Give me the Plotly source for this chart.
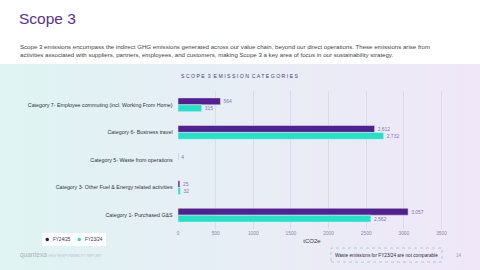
import plotly.graph_objects as go

categories = [
    "Category 7- Employee commuting (incl. Working From Home)",
    "Category 6- Business travel",
    "Category 5- Waste from operations",
    "Category 3- Other Fuel & Energy related activities",
    "Category 1- Purchased G&S",
]
fy2425 = [564, 2612, 4, 25, 3057]
fy2324 = [315, 2732, None, 32, 2562]
x_ticks = [0, 500, 1000, 1500, 2000, 2500, 3000, 3500]
series_names = ["FY24/25", "FY23/24"]

PURPLE = "#52208f"
TEAL = "#25e2c6"

W, H = 480, 270
L, R, T, B = 178, 34, 91, 41


def fmt(v):
    return "" if v is None else f"{v:,}"


def px_x(x):
    return (x - L) / (W - L - R)


def px_y(y):
    return (H - B - y) / (H - T - B)


fig = go.Figure()
for name, vals, col in [(series_names[0], fy2425, PURPLE), (series_names[1], fy2324, TEAL)]:
    fig.add_trace(go.Bar(
        y=categories, x=vals, orientation="h", name=name,
        marker=dict(color=col), text=[fmt(v) for v in vals],
        textposition="outside", textfont=dict(size=5, color="#8577ad"),
        cliponaxis=False, showlegend=False))

shapes = []
# gradient background band
n = 60
c0 = (223, 244, 243)
c1 = (240, 231, 248)
for i in range(n):
    t = i / (n - 1)
    c = tuple(int(round(c0[k] + (c1[k] - c0[k]) * t)) for k in range(3))
    shapes.append(dict(type="rect", xref="paper", yref="paper",
                       x0=px_x(i * W / n), x1=px_x((i + 1.05) * W / n),
                       y0=px_y(H), y1=px_y(64),
                       fillcolor=f"rgb{c}", line=dict(width=0), layer="below"))
# note box
shapes.append(dict(type="rect", xref="paper", yref="paper",
                   x0=px_x(331), x1=px_x(442), y0=px_y(262), y1=px_y(248),
                   line=dict(color="#8fc9c4", width=0.8, dash="dot"),
                   fillcolor="rgba(255,255,255,0)"))
# legend box
shapes.append(dict(type="rect", xref="paper", yref="paper",
                   x0=px_x(42), x1=px_x(106), y0=px_y(246), y1=px_y(233),
                   line=dict(width=0), fillcolor="white"))
shapes.append(dict(type="circle", xref="paper", yref="paper",
                   x0=px_x(45.5), x1=px_x(49), y0=px_y(241.2), y1=px_y(237.7),
                   line=dict(width=0), fillcolor="#2a1458"))
shapes.append(dict(type="circle", xref="paper", yref="paper",
                   x0=px_x(77.5), x1=px_x(81), y0=px_y(241.2), y1=px_y(237.7),
                   line=dict(width=0), fillcolor=TEAL))

annotations = [
    dict(text="Scope 3", xref="paper", yref="paper", x=px_x(17), y=px_y(18),
         xanchor="left", yanchor="middle", showarrow=False,
         font=dict(size=15.5, color="#5a2d9c", family="Liberation Sans")),
    dict(text="Scope 3 emissions encompass the indirect GHG emissions generated across our value chain, beyond our direct operations. These emissions arise from<br>"
              "activities associated with suppliers, partners, employees, and customers, making Scope 3 a key area of focus in our sustainability strategy.",
         xref="paper", yref="paper", x=px_x(18), y=px_y(50), xanchor="left", yanchor="middle",
         align="left", showarrow=False,
         font=dict(size=6.1, color="#444444", family="Liberation Sans")),
    dict(text="S C O P E &nbsp;3 &nbsp;E M I S S I O N &nbsp;C A T E G O R I E S",
         xref="paper", yref="paper", x=px_x(240), y=px_y(76), xanchor="center", yanchor="middle",
         showarrow=False, font=dict(size=5.2, color="#4a3d72", family="Liberation Sans")),
    dict(text="<span style='color:#b0b0be;font-size:6.5px'>quantexa</span>&nbsp; ESG RESPONSIBILITY REPORT",
         xref="paper", yref="paper", x=px_x(18), y=px_y(255), xanchor="left", yanchor="middle",
         showarrow=False, font=dict(size=3.5, color="#bdbdc8", family="Liberation Sans")),
    dict(text="Waste emissions for FY23/24 are not comparable",
         xref="paper", yref="paper", x=px_x(386.5), y=px_y(255), xanchor="center", yanchor="middle",
         showarrow=False, font=dict(size=4.7, color="#2b2b3a", family="Liberation Sans")),
    dict(text="14", xref="paper", yref="paper", x=px_x(459), y=px_y(255), xanchor="center",
         yanchor="middle", showarrow=False, font=dict(size=4.5, color="#9a9aaa", family="Liberation Sans")),
    dict(text=series_names[0], xref="paper", yref="paper", x=px_x(51), y=px_y(239.5),
         xanchor="left", yanchor="middle", showarrow=False,
         font=dict(size=4.6, color="#333344", family="Liberation Sans")),
    dict(text=series_names[1], xref="paper", yref="paper", x=px_x(83), y=px_y(239.5),
         xanchor="left", yanchor="middle", showarrow=False,
         font=dict(size=4.6, color="#333344", family="Liberation Sans")),
]

fig.update_layout(
    width=W, height=H, margin=dict(l=L, r=R, t=T, b=B),
    paper_bgcolor="white", plot_bgcolor="rgba(0,0,0,0)",
    barmode="group", bargap=0.5, bargroupgap=0,
    font=dict(family="Liberation Sans"),
    shapes=shapes, annotations=annotations, showlegend=False,
    xaxis=dict(range=[0, 3560], tickvals=x_ticks, ticktext=[str(v) for v in x_ticks],
               showgrid=True, gridcolor="rgba(200,200,215,0.45)", gridwidth=0.6,
               zeroline=False, showline=False,
               tickfont=dict(size=4.8, color="#8a86a8"),
               title=dict(text="tCO2e", font=dict(size=6, color="#333344"), standoff=4),
               fixedrange=True),
    yaxis=dict(categoryorder="array", categoryarray=categories, autorange="reversed",
               showgrid=False, zeroline=False, showline=False,
               tickfont=dict(size=5.3, color="#333333"), ticksuffix="   ",
               fixedrange=True),
)

fig.write_html("out.html")
